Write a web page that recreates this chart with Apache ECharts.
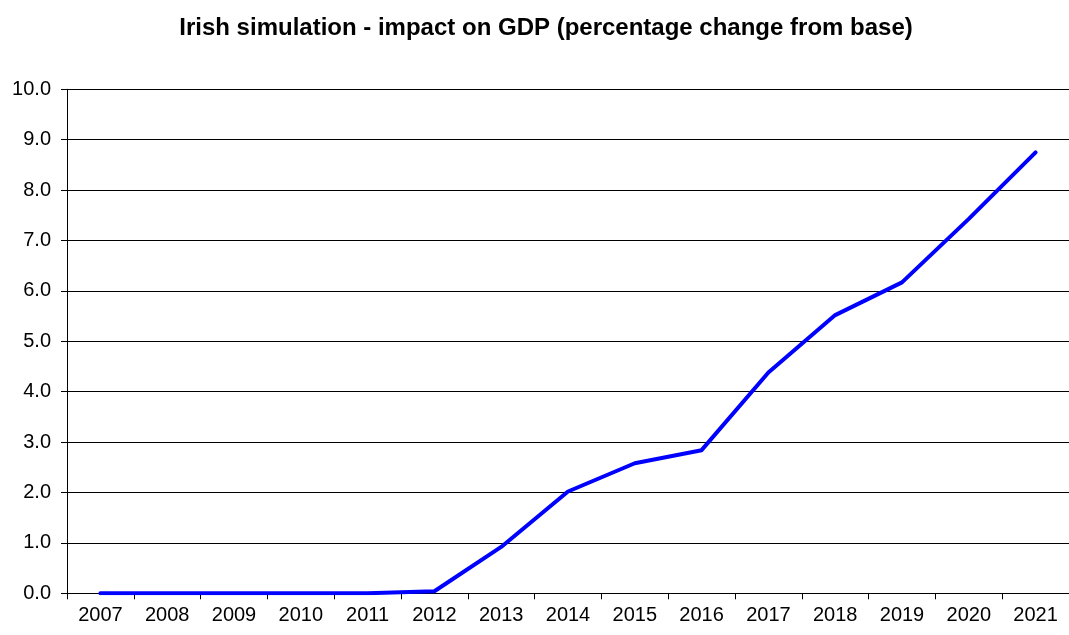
<!DOCTYPE html>
<html>
<head>
<meta charset="utf-8">
<script src="https://cdn.jsdelivr.net/npm/echarts@6/dist/echarts.min.js"></script>
<style>
  html, body { margin: 0; padding: 0; background: #fff; }
  #chart { width: 1069px; height: 635px; }
</style>
</head>
<body>
<div id="chart"></div>
<script>
// Simulation years
const years = ['2007', '2008', '2009', '2010', '2011', '2012', '2013', '2014',
               '2015', '2016', '2017', '2018', '2019', '2020', '2021'];
// Impact on GDP, percentage change from base
const gdpImpact = [0.0, 0.0, 0.0, 0.0, 0.0, 0.04, 0.92, 2.02,
                   2.58, 2.84, 4.38, 5.52, 6.17, 7.43, 8.75];

const FONT = '"Liberation Sans", Arial, sans-serif';

const chart = echarts.init(document.getElementById('chart'), null, { renderer: 'canvas' });
chart.setOption({
  animation: false,
  backgroundColor: '#ffffff',
  title: {
    text: 'Irish simulation - impact on GDP (percentage change from base)',
    left: 541,
    textAlign: 'center',
    top: 11,
    textStyle: { fontFamily: FONT, fontSize: 24, fontWeight: 'bold', color: '#000' }
  },
  grid: { left: 67, top: 89.3, width: 1010, height: 504, containLabel: false },
  xAxis: {
    type: 'category',
    data: years,
    boundaryGap: true,
    axisLine: { show: true, lineStyle: { color: '#000', width: 1 } },
    axisTick: { show: true, length: 6, inside: false, lineStyle: { color: '#000' } },
    axisLabel: { fontFamily: FONT, fontSize: 20, color: '#000', margin: 12, interval: 0 },
    splitLine: { show: false }
  },
  yAxis: {
    type: 'value',
    min: 0,
    max: 10,
    interval: 1,
    axisLine: { show: true, lineStyle: { color: '#000', width: 1 } },
    axisTick: { show: true, length: 6, inside: false, lineStyle: { color: '#000' } },
    axisLabel: {
      fontFamily: FONT, fontSize: 20, color: '#000', margin: 16,
      formatter: v => v.toFixed(1)
    },
    splitLine: { show: true, lineStyle: { color: '#000', width: 1 } }
  },
  series: [{
    type: 'line',
    data: gdpImpact,
    showSymbol: false,
    symbol: 'none',
    lineStyle: { color: '#0000ff', width: 4, cap: 'round', join: 'round' },
    itemStyle: { color: '#0000ff' }
  }]
});
</script>
</body>
</html>
